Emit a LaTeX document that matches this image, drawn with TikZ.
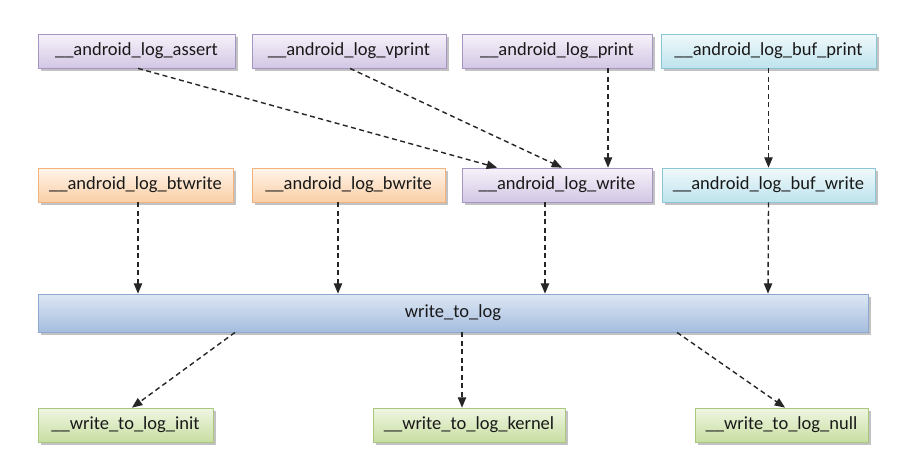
\documentclass[tikz,border=0pt]{standalone}
\usepackage{fontspec}
\setmainfont{Carlito}
\usetikzlibrary{arrows,shadows}

\definecolor{purpletop}{HTML}{F6F2FA}
\definecolor{purplebot}{HTML}{D3C7E4}
\definecolor{purpleline}{HTML}{A595C2}
\definecolor{orangetop}{HTML}{FFF4EA}
\definecolor{orangebot}{HTML}{F9CFA6}
\definecolor{orangeline}{HTML}{F2B27E}
\definecolor{cyantop}{HTML}{F0F9FB}
\definecolor{cyanbot}{HTML}{BEE3ED}
\definecolor{cyanline}{HTML}{8CC6D6}
\definecolor{greentop}{HTML}{EFF6E2}
\definecolor{greenbot}{HTML}{C8DEA2}
\definecolor{greenline}{HTML}{A9C77F}
\definecolor{bartop}{HTML}{DDE7F3}
\definecolor{barbot}{HTML}{A5BDDF}
\definecolor{barline}{HTML}{8FA8CF}

\tikzset{
  box/.style={rectangle,draw,line width=0.8pt,minimum height=34pt,inner sep=0pt,
    font=\fontsize{18.5}{22}\selectfont,text=black!90,
    drop shadow={shadow xshift=2.5pt,shadow yshift=-2.5pt,opacity=0.4,fill=black!60}},
  purplebox/.style={box,draw=purpleline,top color=purpletop,bottom color=purplebot},
  orangebox/.style={box,draw=orangeline,top color=orangetop,bottom color=orangebot},
  cyanbox/.style={box,draw=cyanline,top color=cyantop,bottom color=cyanbot},
  greenbox/.style={box,draw=greenline,top color=greentop,bottom color=greenbot},
  barbox/.style={box,minimum height=38pt,draw=barline,top color=bartop,bottom color=barbot},
  call/.style={->,line width=1.4pt,dash pattern=on 5pt off 3.5pt,black!85}
}

\begin{document}
\begin{tikzpicture}[line cap=butt,line join=round,>=triangle 45,x=1pt,y=-1pt]
\useasboundingbox (0,0) rectangle (904,466);
% top row
\node[purplebox,minimum width=197pt] (assert) at (136.5,51) {\_\_android\_log\_assert};
\node[purplebox,minimum width=194pt] (vprint) at (349,51) {\_\_android\_log\_vprint};
\node[purplebox,minimum width=190pt] (print) at (557,51) {\_\_android\_log\_print};
\node[cyanbox,minimum width=215pt] (bufprint) at (768.5,51) {\_\_android\_log\_buf\_print};
% second row
\node[orangebox,minimum width=195pt] (btwrite) at (135.5,185) {\_\_android\_log\_btwrite};
\node[orangebox,minimum width=193pt] (bwrite) at (348.5,185) {\_\_android\_log\_bwrite};
\node[purplebox,minimum width=190pt] (write) at (557,185) {\_\_android\_log\_write};
\node[cyanbox,minimum width=213pt] (bufwrite) at (768.5,185) {\_\_android\_log\_buf\_write};
% common entry
\node[barbox,minimum width=830pt] (writetolog) at (453,313) {write\_to\_log};
% back ends
\node[greenbox,minimum width=175pt] (init) at (125.5,425) {\_\_write\_to\_log\_init};
\node[greenbox,minimum width=192pt] (kernel) at (469,425) {\_\_write\_to\_log\_kernel};
\node[greenbox,minimum width=173pt] (null) at (781.5,425) {\_\_write\_to\_log\_null};
% calls
\draw[call] ([xshift=1.5pt]assert.south) -- ([xshift=-60pt]write.north);
\draw[call] ([xshift=1pt]vprint.south) -- ([xshift=5pt]write.north);
\draw[call] ([xshift=51pt]print.south) -- ([xshift=51pt]write.north);
\draw[call] (bufprint.south) -- (bufwrite.north);
\draw[call] ([xshift=2.5pt]btwrite.south) -- ([xshift=-315pt]writetolog.north);
\draw[call] ([xshift=-10.5pt]bwrite.south) -- ([xshift=-115pt]writetolog.north);
\draw[call] ([xshift=-12pt]write.south) -- ([xshift=92pt]writetolog.north);
\draw[call] (bufwrite.south) -- ([xshift=315pt]writetolog.north);
\draw[call] ([xshift=-218pt]writetolog.south) -- ([xshift=6.5pt]init.north);
\draw[call] ([xshift=9pt]writetolog.south) -- ([xshift=-7pt]kernel.north);
\draw[call] ([xshift=224pt]writetolog.south) -- ([xshift=3.5pt]null.north);
\end{tikzpicture}
\end{document}
